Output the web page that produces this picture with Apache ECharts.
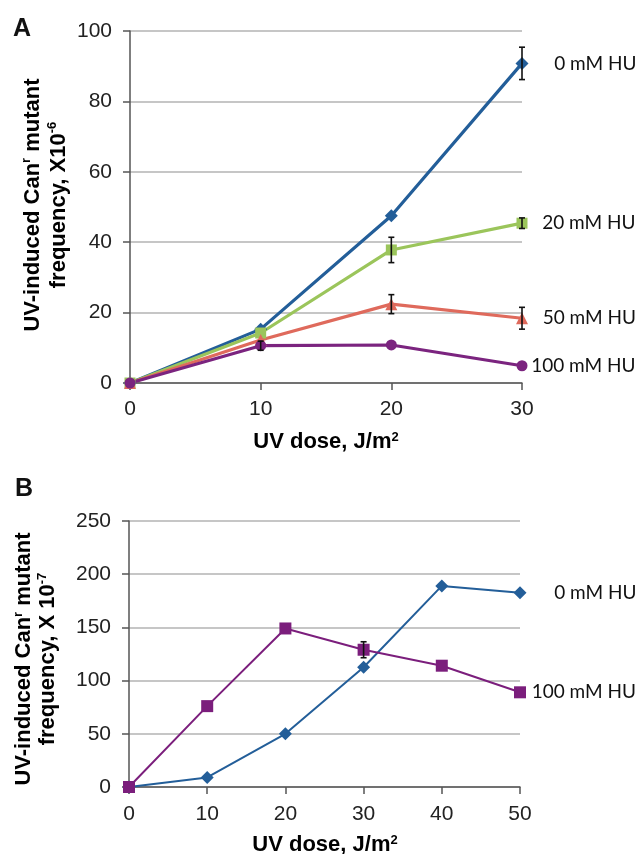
<!DOCTYPE html>
<html>
<head>
<meta charset="utf-8">
<script src="https://cdn.jsdelivr.net/npm/echarts@6/dist/echarts.min.js"></script>
<style>html,body{margin:0;padding:0;background:#fff;}#c{width:640px;height:854px;}</style>
</head>
<body>
<div id="c"></div>
<script>
// ---- Panel A data ----
const doseA = [0, 10, 20, 30];
const hu0A = [0, 15.3, 47.5, 90.8];
const hu20A = [0, 14.2, 37.8, 45.4];
const hu50A = [0, 12.2, 22.4, 18.4];
const hu100A = [0, 10.6, 10.8, 4.9];
const err0A = [0, 0, 0, 4.6];
const err20A = [0, 0, 3.6, 1.5];
const err50A = [0, 0, 2.7, 3.1];
const err100A = [0, 1.3, 0, 0];
const namesA = ['0 mM HU', '20 mM HU', '50 mM HU', '100 mM HU'];
// ---- Panel B data ----
const doseB = [0, 10, 20, 30, 40, 50];
const hu0B = [0, 9, 50, 112.5, 189, 182.5];
const hu100B = [0, 76, 149, 129, 114, 89];
const err0B = [0, 0, 0, 0, 0, 0];
const err100B = [0, 0, 0, 7.5, 0, 0];
const namesB = ['0 mM HU', '100 mM HU'];

const cBlue = '#235e99', cGreen = '#9bc55b', cRed = '#df6a5c', cPurpleA = '#7b247f', cPurpleB = '#7b1e7c';
const tickFont = 'Liberation Sans, Arial, sans-serif';
const lblFont = 'Lato, sans-serif';

function pts(xs, ys) { return xs.map((x, i) => [x, ys[i]]); }

function lineSeries(name, xs, ys, color, symbol, size, width, gi, labelWidth) {
  const data = pts(xs, ys).map((p, i) => {
    if (i === xs.length - 1) {
      return { value: p, label: { show: true, position: 'right', distance: 8,
        formatter: '{a|' + name + '}',
        rich: { a: { width: labelWidth, align: 'right', fontFamily: lblFont, fontSize: 19, color: '#111' } } } };
    }
    return { value: p };
  });
  return { type: 'line', name: name, xAxisIndex: gi, yAxisIndex: gi, data: data,
    symbol: symbol, symbolSize: size, showSymbol: true, animation: false,
    itemStyle: { color: color }, lineStyle: { color: color, width: width } };
}

function errSeries(xs, ys, es, gi) {
  const d = [];
  xs.forEach((x, i) => { if (es[i] > 0) d.push([x, ys[i], es[i]]); });
  return { type: 'custom', xAxisIndex: gi, yAxisIndex: gi, data: d, z: 10, animation: false, silent: true,
    renderItem: function (params, api) {
      const x = api.value(0), y = api.value(1), e = api.value(2);
      const top = api.coord([x, y + e]), bot = api.coord([x, y - e]);
      const w = 3;
      const st = { stroke: '#111', lineWidth: 1.6 };
      return { type: 'group', children: [
        { type: 'line', shape: { x1: top[0], y1: top[1], x2: bot[0], y2: bot[1] }, style: st },
        { type: 'line', shape: { x1: top[0] - w, y1: top[1], x2: top[0] + w, y2: top[1] }, style: st },
        { type: 'line', shape: { x1: bot[0] - w, y1: bot[1], x2: bot[0] + w, y2: bot[1] }, style: st }
      ] };
    } };
}

function xAx(gi, max, margin) {
  return { type: 'value', gridIndex: gi, min: 0, max: max, interval: 10,
    axisLine: { show: true, lineStyle: { color: '#555', width: 1.5 } },
    axisTick: { show: true, length: 7, lineStyle: { color: '#555', width: 1.5 } },
    splitLine: { show: false },
    axisLabel: { fontFamily: tickFont, fontSize: 21, color: '#222', margin: margin } };
}
function yAx(gi, max, interval) {
  return { type: 'value', gridIndex: gi, min: 0, max: max, interval: interval,
    axisLine: { show: true, lineStyle: { color: '#555', width: 1.5 } },
    axisTick: { show: true, length: 7, lineStyle: { color: '#555', width: 1.5 } },
    splitLine: { show: true, lineStyle: { color: '#b3b3b3', width: 1.5 } },
    axisLabel: { fontFamily: tickFont, fontSize: 21, color: '#222', margin: 18 } };
}

const supRich = {
  b: { fontFamily: tickFont, fontWeight: 'bold', fontSize: 22, color: '#111' },
  s: { fontFamily: tickFont, fontWeight: 'bold', fontSize: 13, color: '#111', verticalAlign: 'top', padding: [0, 0, 6, 0] }
};

const chart = echarts.init(document.getElementById('c'), null, { renderer: 'canvas' });
const option = {
  backgroundColor: '#fff',
  animation: false,
  grid: [
    { left: 130, top: 31, width: 392, height: 352 },
    { left: 129, top: 521, width: 391, height: 266 }
  ],
  xAxis: [xAx(0, 30, 16), xAx(1, 50, 17)],
  yAxis: [yAx(0, 100, 20), yAx(1, 250, 50)],
  series: [
    lineSeries(namesA[0], doseA, hu0A, cBlue, 'diamond', 13, 3.2, 0, 100),
    lineSeries(namesA[1], doseA, hu20A, cGreen, 'rect', 11, 3.2, 0, 100),
    lineSeries(namesA[2], doseA, hu50A, cRed, 'triangle', 12, 3.2, 0, 100),
    lineSeries(namesA[3], doseA, hu100A, cPurpleA, 'circle', 11, 3.2, 0, 100),
    errSeries(doseA, hu0A, err0A, 0),
    errSeries(doseA, hu20A, err20A, 0),
    errSeries(doseA, hu50A, err50A, 0),
    errSeries(doseA, hu100A, err100A, 0),
    lineSeries(namesB[0], doseB, hu0B, cBlue, 'diamond', 13, 2, 1, 102),
    lineSeries(namesB[1], doseB, hu100B, cPurpleB, 'rect', 12, 2, 1, 102),
    errSeries(doseB, hu0B, err0B, 1),
    errSeries(doseB, hu100B, err100B, 1)
  ],
  graphic: [
    { type: 'text', x: 22, y: 29, style: { text: 'A', font: 'bold 25px Liberation Sans, Arial, sans-serif', fill: '#111', align: 'center', verticalAlign: 'middle' } },
    { type: 'text', x: 24, y: 489, style: { text: 'B', font: 'bold 25px Liberation Sans, Arial, sans-serif', fill: '#111', align: 'center', verticalAlign: 'middle' } },
    { type: 'text', x: 46, y: 205, rotation: Math.PI / 2,
      style: { text: '{b|UV-induced Can}{s|r}{b| mutant}\n{b|frequency, X10}{s|-6}', rich: supRich, align: 'center', verticalAlign: 'middle', lineHeight: 26 } },
    { type: 'text', x: 36, y: 659, rotation: Math.PI / 2,
      style: { text: '{b|UV-induced Can}{s|r}{b| mutant}\n{b|frequency, X 10}{s|-7}', rich: supRich, align: 'center', verticalAlign: 'middle', lineHeight: 24 } },
    { type: 'text', x: 326, y: 442, style: { text: '{b|UV dose, J/m}{s|2}', rich: supRich, align: 'center', verticalAlign: 'middle' } },
    { type: 'text', x: 325, y: 845, style: { text: '{b|UV dose, J/m}{s|2}', rich: supRich, align: 'center', verticalAlign: 'middle' } }
  ]
};
chart.setOption(option);
</script>
</body>
</html>
